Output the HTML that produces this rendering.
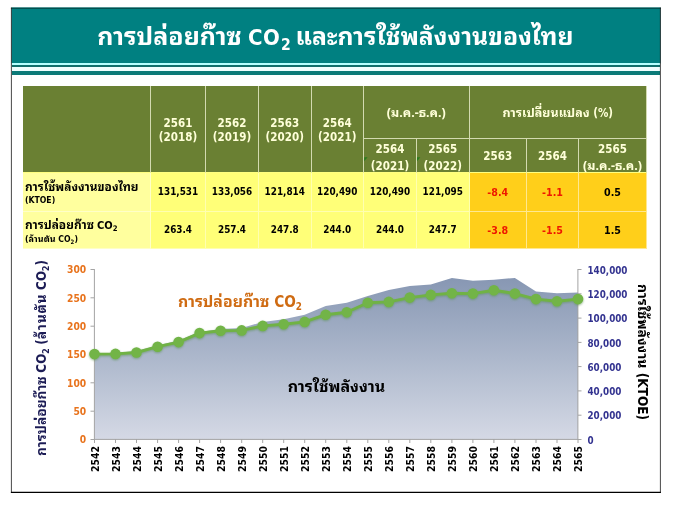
<!DOCTYPE html>
<html lang="th">
<head>
<meta charset="utf-8">
<title>การปล่อยก๊าซ CO2 และการใช้พลังงานของไทย</title>
<style>
html,body{margin:0;padding:0;background:#fff;}
body{width:675px;height:507px;position:relative;overflow:hidden;font-family:"DejaVu Sans Condensed","DejaVu Sans","Liberation Sans","Noto Sans Thai Looped","Noto Sans Thai","Loma","Sarabun",sans-serif;font-weight:bold;color:#000;}
.t{font-style:normal;font-family:"Noto Sans Thai Looped","Noto Sans Thai","Loma","Sarabun",sans-serif;}
#frame{position:absolute;left:0;top:0;}
#hdr{position:absolute;left:12px;top:8px;width:648px;height:67px;background:#008081;}
#hdr i{position:absolute;left:0;width:100%;display:block;}
#title{position:absolute;left:97.3px;top:6.8px;width:560px;height:55px;color:#fff;text-align:left;white-space:nowrap;font-size:22px;line-height:55px;word-spacing:-0.6px;}
#title b{font-weight:bold;letter-spacing:0.45px;}
#title .t{font-size:24.72px;}
#title .t1{font-size:24.95px;}
#title sub{font-size:15.6px;vertical-align:baseline;position:relative;top:5.5px;margin-left:0.7px;}
.c{position:absolute;box-sizing:border-box;display:flex;align-items:center;justify-content:center;text-align:center;border-right:1px solid #d3dab0;border-bottom:1px solid #d3dab0;white-space:nowrap;overflow:hidden;}
.c span{display:block;position:relative;}
.c.h{background:#6a8033;color:#ffffd9;font-size:11.5px;line-height:14.6px;}
.c.h span{top:1.1px;}
.c.h2{line-height:16.8px;}
.c.h2 span{top:2.8px;}
.c.h1 span{top:1.3px;}
.c.hb{border-bottom-color:#ffff80;}
.c.h .t{font-size:12.5px;line-height:1;}
.c.d{background:#ffff78;font-size:9.85px;border-color:#ffffb0;}
.c.d span{top:0.1px;}
.c.g span{top:0.5px;}
.c.l{background:#ffff9e;font-size:10px;justify-content:flex-start;text-align:left;padding-left:2px;line-height:12px;border-color:#ffffc8;}
.c.l span{top:1.2px;}
.c.l u{display:block;text-decoration:none;height:12px;line-height:12px;position:relative;top:-1.2px;}
.c.l .t{font-size:11.9px;}
.c.l b{font-size:11px;}
.c.l small{display:block;font-size:8.6px;height:11.5px;line-height:11.5px;position:relative;top:1.8px;}
.c.l small .t{font-size:9px;}
.c.l sub{font-size:70%;vertical-align:baseline;position:relative;top:2px;}
.c.g{background:#ffcf1a;font-size:10.6px;border-color:#ffe890;}
.c.neg{color:#ee1800;}
#chart{position:absolute;left:0;top:0;}
.yl{position:absolute;left:40px;width:46.2px;text-align:right;font-size:10.2px;line-height:12px;color:#e8731c;}
.yr{position:absolute;left:587.5px;font-size:9.75px;line-height:12px;color:#333390;}
.xl{position:absolute;top:459px;font-size:10.4px;line-height:12px;white-space:nowrap;transform:translate(-50%,-50%) rotate(-90deg);}
.rot{position:absolute;white-space:nowrap;line-height:1;transform:translate(-50%,-50%);}
.rot sub{font-size:65%;vertical-align:baseline;position:relative;top:0.3em;}
#lt{transform:translate(-50%,-50%) rotate(-90deg);}
#rt{transform:translate(-50%,-50%) rotate(90deg);}
</style>
</head>
<body>
<svg id="frame" width="675" height="507" viewBox="0 0 675 507"><rect x="11.3" y="7.5" width="649.5" height="484.5" fill="#fff"/><rect x="11.6" y="7.4" width="648.9" height="56" fill="#008081"/></svg>
<div id="hdr">
<i style="top:55px;height:2px;background:#b3ffff"></i>
<i style="top:57px;height:2px;background:#0f6f6c"></i>
<i style="top:59px;height:4px;background:#effefe"></i>
<i style="top:63px;height:4px;background:#0c7a78"></i>
</div>
<div id="title"><span class="t t1">การปล่อยก๊าซ</span> <b>CO</b><sub>2</sub> <span class="t" style="margin-left:-1.5px">และการใช้พลังงานของไทย</span></div>
<div class="c h hb" style="left:23px;top:86px;width:128px;height:87px;"><span></span></div><div class="c h hb" style="left:151px;top:86px;width:55px;height:87px;"><span>2561<br>(2018)</span></div><div class="c h hb" style="left:206px;top:86px;width:53px;height:87px;"><span>2562<br>(2019)</span></div><div class="c h hb" style="left:259px;top:86px;width:52.5px;height:87px;"><span>2563<br>(2020)</span></div><div class="c h hb" style="left:311.5px;top:86px;width:52.5px;height:87px;"><span>2564<br>(2021)</span></div><div class="c h" style="left:364px;top:86px;width:105.5px;height:52.5px;"><span><i class="t">(ม.ค.-ธ.ค.)</i></span></div><div class="c h" style="left:469.5px;top:86px;width:177.5px;height:52.5px;"><span><i class="t">การเปลี่ยนแปลง</i> (%)</span></div><div class="c h h2 hb" style="left:364px;top:138.5px;width:53px;height:34.5px;"><span>2564<br>(2021)</span></div><div class="c h h2 hb" style="left:417px;top:138.5px;width:52.5px;height:34.5px;"><span>2565<br>(2022)</span></div><div class="c h h1 hb" style="left:469.5px;top:138.5px;width:57.5px;height:34.5px;"><span>2563</span></div><div class="c h h1 hb" style="left:527px;top:138.5px;width:52px;height:34.5px;"><span>2564</span></div><div class="c h h2 hb" style="left:579px;top:138.5px;width:68px;height:34.5px;"><span>2565<br><i class="t">(ม.ค.-ธ.ค.)</i></span></div><div class="c l" style="left:23px;top:173px;width:128px;height:38.5px;"><span><u><i class="t">การใช้พลังงานของไทย</i></u><small>(KTOE)</small></span></div><div class="c d" style="left:151px;top:173px;width:55px;height:38.5px;"><span>131,531</span></div><div class="c d" style="left:206px;top:173px;width:53px;height:38.5px;"><span>133,056</span></div><div class="c d" style="left:259px;top:173px;width:52.5px;height:38.5px;"><span>121,814</span></div><div class="c d" style="left:311.5px;top:173px;width:52.5px;height:38.5px;"><span>120,490</span></div><div class="c d" style="left:364px;top:173px;width:53px;height:38.5px;"><span>120,490</span></div><div class="c d" style="left:417px;top:173px;width:52.5px;height:38.5px;"><span>121,095</span></div><div class="c g neg" style="left:469.5px;top:173px;width:57.5px;height:38.5px;"><span>-8.4</span></div><div class="c g neg" style="left:527px;top:173px;width:52px;height:38.5px;"><span>-1.1</span></div><div class="c g" style="left:579px;top:173px;width:68px;height:38.5px;"><span>0.5</span></div><div class="c l" style="left:23px;top:211.5px;width:128px;height:37.0px;"><span><u><i class="t">การปล่อยก๊าซ</i> <b>CO<sub>2</sub></b></u><small>(<i class="t">ล้านตัน</i> CO<sub>2</sub>)</small></span></div><div class="c d" style="left:151px;top:211.5px;width:55px;height:37.0px;"><span>263.4</span></div><div class="c d" style="left:206px;top:211.5px;width:53px;height:37.0px;"><span>257.4</span></div><div class="c d" style="left:259px;top:211.5px;width:52.5px;height:37.0px;"><span>247.8</span></div><div class="c d" style="left:311.5px;top:211.5px;width:52.5px;height:37.0px;"><span>244.0</span></div><div class="c d" style="left:364px;top:211.5px;width:53px;height:37.0px;"><span>244.0</span></div><div class="c d" style="left:417px;top:211.5px;width:52.5px;height:37.0px;"><span>247.7</span></div><div class="c g neg" style="left:469.5px;top:211.5px;width:57.5px;height:37.0px;"><span>-3.8</span></div><div class="c g neg" style="left:527px;top:211.5px;width:52px;height:37.0px;"><span>-1.5</span></div><div class="c g" style="left:579px;top:211.5px;width:68px;height:37.0px;"><span>1.5</span></div>
<svg id="chart" width="675" height="507" viewBox="0 0 675 507">
<defs>
<linearGradient id="ag" x1="0" y1="0" x2="0" y2="1" gradientUnits="objectBoundingBox">
<stop offset="0" stop-color="#8797b3"/><stop offset="0.5" stop-color="#adb8cc"/><stop offset="1" stop-color="#d5d9e5"/>
</linearGradient>
<filter id="sh" x="-5%" y="-20%" width="110%" height="150%"><feGaussianBlur in="SourceAlpha" stdDeviation="0.9"/><feOffset dx="0.3" dy="1.1"/><feComponentTransfer><feFuncR type="linear" slope="0" intercept="0.12"/><feFuncG type="linear" slope="0" intercept="0.3"/><feFuncB type="linear" slope="0" intercept="0.1"/><feFuncA type="linear" slope="0.65"/></feComponentTransfer><feMerge><feMergeNode/><feMergeNode in="SourceGraphic"/></feMerge></filter>
<radialGradient id="mg" cx="0.5" cy="0.42" r="0.6"><stop offset="0" stop-color="#7cc04e"/><stop offset="1" stop-color="#68a83f"/></radialGradient>
</defs>
<path d="M94.5,439.5 L94.5,354.0 L115.5,353.0 L136.5,351.0 L157.6,345.5 L178.6,340.5 L199.6,332.0 L220.6,329.0 L241.7,328.0 L262.7,321.9 L283.7,319.2 L304.7,314.7 L325.7,305.9 L346.8,302.7 L367.8,296.0 L388.8,289.9 L409.8,285.9 L430.8,284.5 L451.9,278.1 L472.9,280.8 L493.9,279.8 L514.9,277.9 L536.0,291.6 L557.0,293.2 L578.0,292.5 L578.0,439.5 Z" fill="url(#ag)"/>
<g stroke="#a4a4a4" stroke-width="1" fill="none">
<line x1="94.4" x2="94.4" y1="269" y2="440"/>
<line x1="577.9" x2="577.9" y1="269" y2="440"/>
<line x1="94" x2="578.4" y1="439.4" y2="439.4"/>
<line x1="90.5" x2="94" y1="439.5" y2="439.5"/><line x1="90.5" x2="94" y1="411.2" y2="411.2"/><line x1="90.5" x2="94" y1="382.8" y2="382.8"/><line x1="90.5" x2="94" y1="354.5" y2="354.5"/><line x1="90.5" x2="94" y1="326.2" y2="326.2"/><line x1="90.5" x2="94" y1="297.8" y2="297.8"/><line x1="90.5" x2="94" y1="269.5" y2="269.5"/><line x1="578" x2="581.5" y1="439.5" y2="439.5"/><line x1="578" x2="581.5" y1="415.2" y2="415.2"/><line x1="578" x2="581.5" y1="390.9" y2="390.9"/><line x1="578" x2="581.5" y1="366.6" y2="366.6"/><line x1="578" x2="581.5" y1="342.4" y2="342.4"/><line x1="578" x2="581.5" y1="318.1" y2="318.1"/><line x1="578" x2="581.5" y1="293.8" y2="293.8"/><line x1="578" x2="581.5" y1="269.5" y2="269.5"/><line x1="94.5" x2="94.5" y1="439" y2="443"/><line x1="115.5" x2="115.5" y1="439" y2="443"/><line x1="136.5" x2="136.5" y1="439" y2="443"/><line x1="157.6" x2="157.6" y1="439" y2="443"/><line x1="178.6" x2="178.6" y1="439" y2="443"/><line x1="199.6" x2="199.6" y1="439" y2="443"/><line x1="220.6" x2="220.6" y1="439" y2="443"/><line x1="241.7" x2="241.7" y1="439" y2="443"/><line x1="262.7" x2="262.7" y1="439" y2="443"/><line x1="283.7" x2="283.7" y1="439" y2="443"/><line x1="304.7" x2="304.7" y1="439" y2="443"/><line x1="325.7" x2="325.7" y1="439" y2="443"/><line x1="346.8" x2="346.8" y1="439" y2="443"/><line x1="367.8" x2="367.8" y1="439" y2="443"/><line x1="388.8" x2="388.8" y1="439" y2="443"/><line x1="409.8" x2="409.8" y1="439" y2="443"/><line x1="430.8" x2="430.8" y1="439" y2="443"/><line x1="451.9" x2="451.9" y1="439" y2="443"/><line x1="472.9" x2="472.9" y1="439" y2="443"/><line x1="493.9" x2="493.9" y1="439" y2="443"/><line x1="514.9" x2="514.9" y1="439" y2="443"/><line x1="536.0" x2="536.0" y1="439" y2="443"/><line x1="557.0" x2="557.0" y1="439" y2="443"/><line x1="578.0" x2="578.0" y1="439" y2="443"/>
</g>
<g stroke="#000" stroke-width="1" fill="none"><line x1="11.4" y1="7.5" x2="11.4" y2="492.8" stroke-opacity="0.72"/><line x1="660.4" y1="7.5" x2="660.4" y2="492.8" stroke-opacity="0.72"/><line x1="10.9" y1="8.2" x2="660.9" y2="8.2" stroke-opacity="0.55"/><line x1="10.9" y1="492.3" x2="660.9" y2="492.3" stroke-width="1.15"/></g>
<g fill="#1f7a1a" opacity="0.85"><polygon points="364.2,157.2 367.6,157.2 364.2,161.2"/><polygon points="417,157.2 420.4,157.2 417,161.2"/></g>
<g filter="url(#sh)">
<path d="M94.5,354.1 L115.5,353.9 L136.5,352.5 L157.6,346.7 L178.6,342.1 L199.6,333.1 L220.6,330.7 L241.7,330.4 L262.7,325.9 L283.7,324.3 L304.7,321.9 L325.7,314.7 L346.8,312.3 L367.8,302.7 L388.8,301.9 L409.8,297.6 L430.8,294.9 L451.9,293.3 L472.9,293.6 L493.9,290.2 L514.9,293.6 L536.0,299.1 L557.0,301.2 L578.0,299.1" fill="none" stroke="#70b245" stroke-width="2.9" stroke-linejoin="round" stroke-linecap="round"/>
<g fill="#72b446"><circle cx="94.5" cy="354.1" r="5.3"/><circle cx="115.5" cy="353.9" r="5.3"/><circle cx="136.5" cy="352.5" r="5.3"/><circle cx="157.6" cy="346.7" r="5.3"/><circle cx="178.6" cy="342.1" r="5.3"/><circle cx="199.6" cy="333.1" r="5.3"/><circle cx="220.6" cy="330.7" r="5.3"/><circle cx="241.7" cy="330.4" r="5.3"/><circle cx="262.7" cy="325.9" r="5.3"/><circle cx="283.7" cy="324.3" r="5.3"/><circle cx="304.7" cy="321.9" r="5.3"/><circle cx="325.7" cy="314.7" r="5.3"/><circle cx="346.8" cy="312.3" r="5.3"/><circle cx="367.8" cy="302.7" r="5.3"/><circle cx="388.8" cy="301.9" r="5.3"/><circle cx="409.8" cy="297.6" r="5.3"/><circle cx="430.8" cy="294.9" r="5.3"/><circle cx="451.9" cy="293.3" r="5.3"/><circle cx="472.9" cy="293.6" r="5.3"/><circle cx="493.9" cy="290.2" r="5.3"/><circle cx="514.9" cy="293.6" r="5.3"/><circle cx="536.0" cy="299.1" r="5.3"/><circle cx="557.0" cy="301.2" r="5.3"/><circle cx="578.0" cy="299.1" r="5.3"/></g>
</g>
</svg>
<div class="yl" style="top:434.4px">0</div><div class="yl" style="top:406.1px">50</div><div class="yl" style="top:377.7px">100</div><div class="yl" style="top:349.4px">150</div><div class="yl" style="top:321.1px">200</div><div class="yl" style="top:292.7px">250</div><div class="yl" style="top:264.4px">300</div><div class="yr" style="top:434.6px">0</div><div class="yr" style="top:410.3px">20,000</div><div class="yr" style="top:386.0px">40,000</div><div class="yr" style="top:361.7px">60,000</div><div class="yr" style="top:337.5px">80,000</div><div class="yr" style="top:313.2px">100,000</div><div class="yr" style="top:288.9px">120,000</div><div class="yr" style="top:264.6px">140,000</div>
<div id="xl"><div class="xl" style="left:94.5px">2542</div><div class="xl" style="left:115.5px">2543</div><div class="xl" style="left:136.5px">2544</div><div class="xl" style="left:157.6px">2545</div><div class="xl" style="left:178.6px">2546</div><div class="xl" style="left:199.6px">2547</div><div class="xl" style="left:220.6px">2548</div><div class="xl" style="left:241.7px">2549</div><div class="xl" style="left:262.7px">2550</div><div class="xl" style="left:283.7px">2551</div><div class="xl" style="left:304.7px">2552</div><div class="xl" style="left:325.7px">2553</div><div class="xl" style="left:346.8px">2554</div><div class="xl" style="left:367.8px">2555</div><div class="xl" style="left:388.8px">2556</div><div class="xl" style="left:409.8px">2557</div><div class="xl" style="left:430.8px">2558</div><div class="xl" style="left:451.9px">2559</div><div class="xl" style="left:472.9px">2560</div><div class="xl" style="left:493.9px">2561</div><div class="xl" style="left:514.9px">2562</div><div class="xl" style="left:536.0px">2563</div><div class="xl" style="left:557.0px">2564</div><div class="xl" style="left:578.0px">2565</div></div>
<div class="rot" id="lt" style="left:41px;top:358px;color:#1c1c55;font-size:13.3px;word-spacing:-0.5px"><span class="t" style="font-size:13.75px">การปล่อยก๊าซ</span> CO<sub>2</sub> (<span class="t" style="font-size:13.9px;letter-spacing:0.75px">ล้านตัน</span> CO<sub>2</sub>)</div>
<div class="rot" id="rt" style="left:643px;top:352px;font-size:13.5px"><span class="t" style="font-size:13.85px">การใช้พลังงาน</span> (KTOE)</div>
<div class="rot" id="s1" style="left:240px;top:302.4px;color:#cf6b12;font-size:15.2px"><span class="t" style="font-size:15.8px">การปล่อยก๊าซ</span> CO<sub>2</sub></div>
<div class="rot" id="s2" style="left:336.5px;top:386px;font-size:16px"><span class="t">การใช้พลังงาน</span></div>
</body>
</html>
